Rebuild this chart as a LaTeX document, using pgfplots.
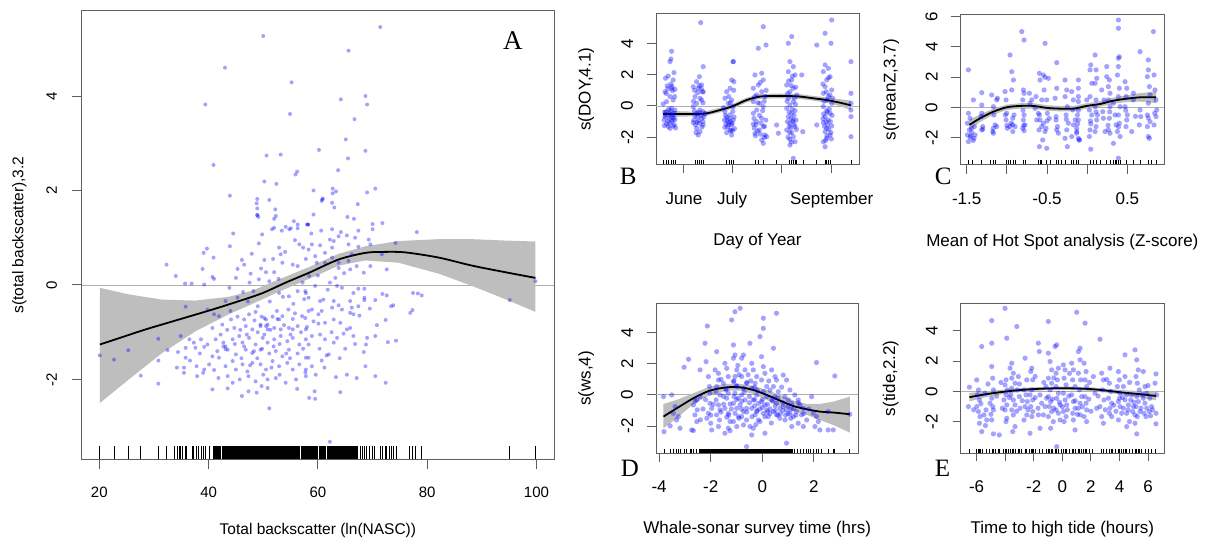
\documentclass[border=0pt]{standalone}
\usepackage{pgfplots}
\pgfplotsset{compat=1.18}
\usepackage{fontspec}
\setmainfont{Liberation Sans}
\newfontfamily\letterfont{Liberation Serif}

\definecolor{bandgray}{RGB}{190,190,190}
\definecolor{zerogray}{RGB}{175,175,175}
\definecolor{boxgray}{RGB}{95,95,95}

\pgfplotsset{
  gam/.style={
    scale only axis, anchor=south west,
    axis line style={boxgray, line width=1pt},
    tick style={boxgray, line width=1pt},
    tick align=outside, xtick pos=left, ytick pos=left,
    minor tick num=0, clip=true,
  },
  xlabA/.style={every axis x label/.style={at={(axis description cs:0.5,0)}, anchor=base, yshift=-#1, font=\fontsize{15.5}{18}\selectfont}},
  ylabA/.style={every axis y label/.style={at={(axis description cs:0,0.5)}, xshift=-#1, rotate=90, anchor=base, font=\fontsize{15.5}{18}\selectfont}},
  xlab/.style={every axis x label/.style={at={(axis description cs:0.5,0)}, anchor=base, yshift=-#1, font=\fontsize{17}{20}\selectfont}},
  ylab/.style={every axis y label/.style={at={(axis description cs:0,0.5)}, xshift=-#1, rotate=90, anchor=base, font=\fontsize{17}{20}\selectfont}},
  xtl/.style={xticklabel style={anchor=base, yshift=-#1}},
  ytl/.style={yticklabel style={rotate=90, anchor=south, inner xsep=0pt, inner ysep=#1}},
  bigfont/.style={tick label style={font=\fontsize{15}{18}\selectfont}},
  smallfont/.style={tick label style={font=\fontsize{17}{20}\selectfont}},
  resid/.style={only marks, mark=*, mark options={fill=blue, fill opacity=0.36, draw opacity=0}},
  fit/.style={black, line width=1.8pt, mark=none, smooth},
  band/.style={fill=bandgray, draw=none},
  zero/.style={zerogray, line width=0.9pt, mark=none},
  rug/.style={only marks, mark=|, black, mark options={line width=0.8pt}},
}

\begin{document}
\begin{tikzpicture}
\path[use as bounding box, fill=white] (0pt,0pt) rectangle (1208pt,540pt);

% ---------------- A: total backscatter
\begin{axis}[gam, bigfont, at={(81.8pt,80.7pt)}, width=472.2pt, height=448.3pt,
  xmin=16.8, xmax=103.2, ymin=-3.69, ymax=5.80,
  xtick={20,40,60,80,100}, xticklabels={20,40,60,80,100},
  ytick={-2,0,2,4}, yticklabels={-2,0,2,4},
  major tick length=10pt, xtl=28.4pt, ytl=14.7pt, xlabA=75.7pt, ylabA=58.3pt,
  xlabel={Total backscatter (ln(NASC))}, ylabel={s(total backscatter),3.2}]
\addplot[zero] coordinates {(16.8,0) (103.2,0)};
\addplot[band] coordinates {(20.1,-0.06) (25.4,-0.20) (31.5,-0.31) (37.6,-0.33) (43.7,-0.25) (48.0,-0.12) (52.9,0.12) (58.4,0.38) (63.8,0.66) (68.7,0.82) (74.8,0.93) (82.1,0.97) (88.2,0.97) (94.3,0.94) (99.8,0.92)
 (99.8,-0.57) (94.3,-0.30) (88.2,-0.02) (82.1,0.24) (74.8,0.47) (68.7,0.52) (63.8,0.41) (58.4,0.13) (52.9,-0.14) (48.0,-0.40) (43.7,-0.62) (37.6,-0.98) (31.5,-1.44) (25.4,-2.0) (20.1,-2.50)} --cycle;
\addplot[fit] coordinates {(20.1,-1.26) (24.3,-1.10) (28.5,-0.94) (34.6,-0.73) (40.7,-0.52) (45.6,-0.34) (49.9,-0.17) (54.1,0.05) (58.4,0.26) (63.8,0.54) (68.7,0.68) (72.0,0.70) (76.0,0.69) (82.1,0.58) (88.2,0.41) (94.3,0.27) (99.8,0.15)};
\addplot[resid, mark size=2pt] coordinates {
(50.0,5.27) (43.0,4.60) (55.2,4.29) (39.4,3.82) (54.9,3.62) (50.6,2.74) (53.2,2.76) (40.9,2.54) (55.9,2.34) (56.2,2.40) (50.2,2.19) (52.4,2.14) (43.9,1.89) (48.9,1.82) (48.8,1.73) (51.1,1.80) (48.9,1.62) (52.2,1.60) (48.9,1.48) (48.9,1.48) (49.1,1.44) (52.3,1.46) (52.0,1.40) (55.6,1.35) (56.3,1.28) (54.1,1.23) (55.05,1.20) (54.75,1.18) (51.6,1.18) (52.0,1.21) (53.4,1.15) (56.3,1.20) (58.2,1.28) (58.2,1.28) (44.5,1.09) (49.8,1.07)
(71.4,5.46) (65.6,4.96) (64.2,3.93) (68.7,4.0) (69.0,3.82) (66.7,3.51) (65.1,3.08) (60.2,2.86) (68.7,2.84) (65.5,2.68) (63.7,2.43) (59.2,2.0) (62.7,2.04) (63.3,1.98) (62.7,1.94) (70.5,2.04) (69.0,1.96) (60.9,1.83) (60.7,1.78) (60.8,1.81) (62.6,1.74) (63.0,1.64) (67.3,1.71) (59.2,1.49) (65.4,1.44) (66.6,1.40) (58.0,1.28) (70.0,1.29) (71.8,1.31) (60.6,1.15) (62.6,1.18) (64.2,1.12) (67.4,1.15) (70.0,1.18) (78.1,1.12) (58.8,1.09)
(39.7,0.77) (39.1,0.68) (43.9,0.82) (49.2,0.88) (47.9,0.66) (52.9,0.79) (53.2,0.65) (56.6,0.86) (57.3,0.79) (32.3,0.43) (40.9,0.58) (46.1,0.53) (46.5,0.43) (45.3,0.34) (50.2,0.53) (50.5,0.27) (52.0,0.27) (47.7,0.24) (53.5,0.47) (55.4,0.43) (56.3,0.40) (34.0,0.19) (38.9,0.34) (40.7,0.17) (41.0,0.13) (49.2,0.12) (51.1,0.08) (52.8,0.13) (35.7,0.03) (36.9,0.03) (39.2,0.01) (43.8,-0.06) (58.4,0.19) (57.2,0.05) (46.3,-0.15) (48.2,-0.13) (45.3,-0.27) (43.1,-0.34) (35.8,-0.46) (52.9,-0.17) (54.7,-0.24) (56.3,-0.13) (57.8,-0.17)
(39.8,-0.52) (41.0,-0.62) (41.9,-0.66) (44.1,-0.73) (45.3,-0.67) (46.5,-0.73) (47.4,-0.62) (48.6,-0.57) (49.7,-0.67) (50.5,-0.73) (51.7,-0.67) (52.6,-0.72) (53.5,-0.66) (54.6,-0.52) (55.4,-0.72) (57.1,-0.66) (58.3,-0.55)
(40.7,-0.91) (42.5,-0.84) (44.7,-0.91) (46.8,-0.87) (48.0,-0.94) (49.5,-0.87) (50.8,-0.84) (52.0,-0.91) (53.2,-0.94) (54.7,-0.91) (56.3,-0.87) (57.8,-0.94)
(30.8,-1.14) (34.9,-1.08) (36.5,-1.15) (37.3,-1.22) (38.6,-1.15) (39.8,-1.26) (41.3,-1.15) (42.7,-1.22) (43.1,-1.30) (44.4,-1.15) (45.6,-1.08) (46.2,-1.22) (47.4,-1.12) (48.6,-1.26) (49.9,-1.12) (50.8,-1.22) (52.0,-1.15) (53.2,-1.08) (54.4,-1.19) (55.4,-1.12) (56.6,-1.26) (57.8,-1.15)
(25.3,-1.38) (22.7,-1.58) (20.1,-1.49) (32.5,-1.38) (34.4,-1.42) (35.8,-1.33) (37.6,-1.33) (39.2,-1.31) (40.7,-1.51) (41.6,-1.40) (43.5,-1.37) (45.0,-1.47) (46.8,-1.37) (48.0,-1.44) (49.5,-1.37) (51.1,-1.45) (52.3,-1.40) (53.5,-1.51) (54.7,-1.37) (56.3,-1.45) (57.8,-1.54)
(30.8,-1.60) (35.8,-1.54) (37.8,-1.72) (39.2,-1.79) (40.1,-1.68) (41.9,-1.54) (43.1,-1.72) (44.4,-1.61) (45.0,-1.79) (46.2,-1.68) (47.1,-1.83) (48.0,-1.65) (49.5,-1.68) (50.5,-1.79) (51.7,-1.61) (52.9,-1.72) (54.4,-1.65) (55.4,-1.79) (56.6,-1.68) (57.8,-1.79)
(27.6,-1.92) (30.8,-2.09) (35.5,-1.75) (35.5,-1.86) (37.9,-1.93) (39.0,-1.86) (41.8,-1.97) (43.5,-1.93) (44.4,-2.07) (45.7,-2.0) (47.3,-1.93) (48.6,-2.04) (49.7,-2.14) (50.8,-2.0) (52.3,-1.97) (54.1,-2.07) (56.0,-2.0) (57.8,-1.93)
(40.7,-2.21) (43.5,-2.19) (46.1,-2.35) (47.3,-2.25) (48.8,-2.28) (50.8,-2.18) (51.1,-2.61)
(50.2,-0.70) (50.5,-0.87) (50.8,-0.94) (49.5,-0.84) (52.9,-0.73) (55.4,-0.94) (42.7,-1.30) (43.1,-1.36) (46.5,-1.30) (48.3,-1.40)
(44.0,-0.55) (45.8,-0.95) (47.0,-1.05) (48.4,-0.75) (49.0,-1.0) (49.8,-1.35) (50.2,-1.05) (51.3,-0.95) (51.9,-1.3) (52.5,-0.55) (53.0,-1.25) (53.8,-0.85) (54.2,-1.45) (55.0,-1.05) (55.8,-0.6) (56.9,-1.0) (57.3,-1.35) (46.0,-1.55) (47.6,-1.7) (48.9,-1.55) (50.0,-1.9) (51.5,-1.75) (53.0,-1.9) (54.9,-1.55) (56.2,-2.2) (44.8,-1.25) (43.4,-0.95) (42.2,-1.05) (41.0,-1.8) (38.4,-1.45) (36.6,-1.6) (34.2,-1.75)
(47.2,-0.35) (49.0,-0.45) (51.2,-0.35) (53.6,-0.25) (55.5,-0.4) (57.5,-0.3) (45.0,0.15) (47.5,0.05) (49.6,0.35) (51.8,0.55) (54.0,0.7) (55.8,0.95) (57.8,0.55) (60.0,0.2) (61.8,-0.1) (63.2,0.15) (64.8,0.25) (66.2,0.65) (60.3,-1.35) (62.5,-1.0) (64.0,-1.55) (66.8,-1.25) (67.6,-0.65) (69.5,-0.5) (70.8,-0.85) (59.6,-1.9) (61.2,-1.75) (63.3,-1.95)
(63.8,1.03) (65.3,1.05) (66.8,1.0) (58.9,0.86) (60.4,0.84) (62.6,0.79) (65.6,0.86) (67.4,0.81) (69.3,0.96) (69.6,0.86) (74.2,0.89) (62.2,0.96) (62.9,0.93)
(58.3,0.75) (59.5,0.61) (61.3,0.68) (62.6,0.58) (63.8,0.47) (63.8,0.36) (65.6,0.51) (65.9,0.33) (67.1,0.40) (68.4,0.26) (69.6,0.40) (71.7,0.65) (72.6,0.33) (61.3,0.47) (59.8,0.47)
(62.2,0.05) (63.5,-0.02) (64.4,-0.06) (67.4,-0.08) (68.5,-0.08) (66.5,-0.17) (57.7,-0.13) (59.5,-0.02)
(58.3,-0.27) (60.4,-0.34) (61.0,-0.31) (62.9,-0.34) (63.8,-0.43) (65.9,-0.34) (68.5,-0.27) (68.5,-0.32) (70.5,-0.32) (71.8,-0.19) (72.6,-0.22) (77.4,-0.17) (79.0,-0.22) (78.3,-0.18)
(58.9,-0.52) (60.7,-0.55) (62.6,-0.48) (64.4,-0.52) (66.2,-0.48) (67.4,-0.45) (65.9,-0.59) (66.5,-0.62) (73.4,-0.45) (73.8,-0.43) (77.3,-0.53) (76.9,-0.59) (72.4,-0.74)
(57.7,-0.70) (59.2,-0.77) (60.1,-0.62) (61.3,-0.80) (62.9,-0.73) (64.1,-0.80) (65.3,-0.94) (65.9,-0.91) (64.7,-1.03) (58.0,-0.89) (60.1,-0.82)
(58.9,-1.08) (61.3,-1.15) (63.5,-1.12) (66.5,-1.08) (69.0,-1.12) (70.5,-1.08) (72.8,-1.21) (74.3,-1.18) (60.4,-1.05)
(58.3,-1.26) (62.9,-1.22) (65.0,-1.35) (68.4,-1.42) (68.8,-1.26) (58.3,-1.54) (61.6,-1.49) (62.0,-1.47) (60.7,-1.60) (58.9,-1.72) (57.7,-1.85)
(68.7,-1.72) (65.3,-1.90) (67.1,-1.97) (70.5,-1.93) (72.4,-2.07) (64.1,-2.27) (59.4,-2.25) (58.4,-2.39) (59.5,-2.41)
(62.2,-3.32) (95.1,-0.32) (99.8,0.08)};
\addplot[rug, mark size=6.7pt] coordinates {(20.06,-3.548) (22.7,-3.548) (25.3,-3.548) (27.6,-3.548) (30.8,-3.548) (32.3,-3.548) (33.7,-3.548) (34.3,-3.548) (34.6,-3.548) (34.9,-3.548) (35.2,-3.548) (35.7,-3.548) (36.0,-3.548) (37.0,-3.548) (37.3,-3.548) (37.8,-3.548) (38.1,-3.548) (38.6,-3.548) (39.0,-3.548) (39.5,-3.548) (40.1,-3.548) (67.8,-3.548) (68.2,-3.548) (68.5,-3.548) (68.8,-3.548) (69.4,-3.548) (69.9,-3.548) (70.3,-3.548) (71.4,-3.548) (71.8,-3.548) (72.3,-3.548) (72.6,-3.548) (73.0,-3.548) (73.4,-3.548) (73.8,-3.548) (74.3,-3.548) (76.7,-3.548) (77.3,-3.548) (77.9,-3.548) (79.0,-3.548) (95.1,-3.548) (99.8,-3.548)};
\addplot[fill=black, draw=none] coordinates {(40.8,-3.69) (42.3,-3.69) (42.3,-3.406) (40.8,-3.406)} --cycle;
\addplot[fill=black, draw=none] coordinates {(42.5,-3.69) (56.7,-3.69) (56.7,-3.406) (42.5,-3.406)} --cycle;
\addplot[fill=black, draw=none] coordinates {(56.9,-3.69) (60.0,-3.69) (60.0,-3.406) (56.9,-3.406)} --cycle;
\addplot[fill=black, draw=none] coordinates {(60.2,-3.69) (61.5,-3.69) (61.5,-3.406) (60.2,-3.406)} --cycle;
\addplot[fill=black, draw=none] coordinates {(61.7,-3.69) (67.4,-3.69) (67.4,-3.406) (61.7,-3.406)} --cycle;
\end{axis}

% ---------------- B: day of year
\begin{axis}[gam, smallfont, at={(656pt,375.7pt)}, width=203pt, height=150.3pt,
  xmin=134.6, xmax=261.0, ymin=-3.72, ymax=5.87,
  xtick={152,182,213,244}, xticklabels={June,July,,September},
  ytick={-2,0,2,4}, yticklabels={-2,0,2,4},
  major tick length=9pt, xtl=31.2pt, ytl=13.7pt, xlab=81.4pt, ylab=65.5pt,
  xlabel={Day of Year}, ylabel={s(DOY,4.1)}]
\addplot[zero] coordinates {(134.6,0) (261.0,0)};
\addplot[band] coordinates {(139.1,-0.26) (147.4,-0.33) (157.8,-0.36) (166.1,-0.32) (174.4,-0.11) (182.7,0.15) (191.0,0.53) (199.3,0.75) (207.7,0.79) (216.0,0.79) (224.3,0.75) (232.6,0.64) (240.9,0.55) (249.2,0.43) (256.0,0.34)
 (256.0,-0.26) (249.2,-0.01) (240.9,0.21) (232.6,0.34) (224.3,0.45) (216.0,0.49) (207.7,0.49) (199.3,0.45) (191.0,0.23) (182.7,-0.15) (174.4,-0.41) (166.1,-0.62) (157.8,-0.66) (147.4,-0.69) (139.1,-0.76)} --cycle;
\addplot[fit] coordinates {(139.1,-0.51) (147.4,-0.51) (157.8,-0.51) (166.1,-0.47) (174.4,-0.26) (182.7,0.0) (191.0,0.38) (199.3,0.60) (207.7,0.64) (216.0,0.64) (224.3,0.60) (232.6,0.49) (240.9,0.38) (249.2,0.21) (256.0,0.04)};
\addplot[resid, mark size=2.6pt] coordinates {
(140.5,1.77) (145.3,1.66) (144.3,3.49) (143.9,3.0) (143.3,2.83) (145.8,2.13) (142.2,1.91) (141.6,1.28) (144.3,1.13) (146.4,1.06) (140.2,0.91) (143.3,0.6) (145.3,0.38) (141.2,0.28) (139.1,0.13) (144.3,-0.15) (146.4,-0.26) (141.2,-0.36) (143.3,-0.51) (145.3,-0.57) (140.2,-0.68) (142.8,-0.79) (146.4,-0.87) (144.3,-1.0) (141.2,-1.15) (145.3,-1.28) (143.3,-1.43) (139.6,-0.9) (142.2,-1.3) (146.8,-1.4) (144.8,0.98) (143.8,1.4) (142.5,-0.2) (145.8,-0.45) (140.8,-0.55) (144.0,-0.7)
(140.0,-0.4) (141.8,-0.95) (143.0,-1.1) (145.0,-0.9) (146.0,-1.2) (142.0,1.1) (144.6,1.25) (146.2,0.6) (139.8,-1.25) (143.6,-0.3) (141.0,0.8) (145.6,-0.75)
(164.0,2.51) (161.6,1.87) (159.9,1.55) (163.0,1.34) (157.8,1.23) (160.9,1.13) (164.0,0.91) (158.9,0.6) (162.0,0.49) (163.0,0.38) (159.9,0.17) (157.8,-0.04) (162.0,-0.26) (164.0,-0.36) (159.9,-0.47) (158.9,-0.64) (163.0,-0.79) (160.9,-0.94) (157.8,-1.06) (164.0,-1.21) (159.9,-1.43) (162.0,-1.64) (160.9,-1.85) (161.5,1.3) (163.5,0.9) (158.5,-0.3) (162.5,-0.6) (160.5,-0.7) (163.8,-1.0) (159.2,-1.2) (165.2,-0.5) (162.4,5.32)
(158.2,-0.9) (160.2,-1.05) (161.2,-0.4) (163.2,-1.35) (164.4,-0.7) (158.6,1.0) (160.6,0.85) (162.8,1.1) (159.5,-1.7) (161.9,-1.1) (163.9,0.2) (157.9,0.3)
(182.7,2.83) (182.7,2.83) (181.7,1.66) (183.1,1.55) (180.7,1.13) (178.6,0.91) (177.5,0.49) (181.7,0.38) (179.6,0.17) (182.7,-0.04) (177.5,-0.36) (180.7,-0.57) (178.6,-0.72) (182.7,-0.89) (179.6,-1.06) (181.7,-1.21) (177.5,-1.36) (180.7,-1.53) (178.6,-1.7) (181.7,-1.85) (183.0,1.0) (176.8,-0.1) (180.0,-1.2) (183.5,-1.45) (179.0,-0.9) (182.0,-1.1)
(177.9,-0.6) (179.2,-1.35) (180.4,-0.8) (181.3,-1.6) (182.4,-0.35) (183.2,-0.7) (178.2,-1.15) (179.9,0.6) (181.0,-1.0) (182.2,-1.55) (177.2,-0.9) (180.9,0.2)
(201.4,5.06) (203.1,3.89) (198.3,3.68) (200.4,2.09) (196.2,1.98) (201.4,1.66) (198.3,1.34) (195.2,1.13) (200.4,0.91) (197.3,0.70) (202.5,0.60) (195.2,0.28) (199.3,0.17) (201.4,-0.04) (197.3,-0.26) (195.2,-0.47) (200.4,-0.79) (197.3,-1.0) (195.2,-1.15) (201.4,-1.32) (198.9,-1.53) (196.2,-1.74) (202.5,-1.85) (203.5,-1.96) (200.4,-2.17) (201.4,-2.38) (202.0,-2.0) (195.7,-1.4) (196.5,-1.9) (199.5,1.5) (202.0,0.3)
(195.6,-0.8) (196.8,-1.2) (197.8,-1.6) (199.0,-0.6) (200.0,-1.1) (201.0,-0.3) (202.2,-1.3) (203.0,-0.9) (198.0,0.2) (196.0,0.6) (203.2,1.0) (199.6,-1.8)
(209.7,-1.21) (210.8,-1.74) (226.0,-1.64) (225.3,1.98)
(219.1,4.43) (217.0,4.0) (218.0,2.83) (220.1,2.51) (217.0,2.19) (221.2,1.98) (219.1,1.66) (216.0,1.34) (220.1,1.13) (218.0,0.91) (222.2,0.70) (217.0,0.49) (220.1,0.28) (218.0,0.06) (216.0,-0.15) (221.2,-0.30) (219.1,-0.47) (217.0,-0.68) (220.1,-0.89) (218.0,-1.11) (221.2,-1.32) (216.0,-1.53) (219.1,-1.70) (220.1,-1.96) (218.0,-2.13) (221.2,-2.28) (218.0,-2.49) (220.1,-3.34) (219.5,1.9) (216.5,0.8) (221.5,0.1) (217.5,-0.4) (219.8,-1.0) (222.0,-1.5) (216.8,-2.0) (218.5,-1.4) (220.5,-0.6) (217.2,1.6)
(216.4,-1.0) (217.6,-1.3) (218.6,-0.8) (219.4,-0.2) (220.6,-1.2) (221.8,-0.9) (216.2,0.3) (217.8,-1.7) (219.0,-2.3) (220.8,0.5) (221.6,1.2) (218.8,1.3)
(244.0,5.49) (239.9,4.64) (243.6,4.0) (234.7,3.89) (239.9,2.62) (241.9,2.40) (238.8,2.19) (243.0,1.87) (240.9,1.66) (239.9,1.23) (244.0,1.02) (238.8,0.81) (241.9,0.60) (240.9,0.38) (244.0,0.17) (238.8,-0.04) (240.9,-0.30) (243.0,-0.47) (239.9,-0.68) (241.9,-0.89) (238.8,-1.06) (244.0,-1.28) (240.9,-1.43) (239.9,-1.64) (243.0,-1.85) (240.9,-2.06) (238.8,-2.28) (239.9,-2.6) (242.0,1.8) (244.5,0.5) (239.0,-0.5) (241.5,-1.2) (243.5,-1.7) (240.2,-2.2) (242.5,-0.2) (238.5,1.4) (234.7,-1.21)
(238.6,-0.8) (239.5,-1.3) (240.5,-1.0) (241.2,-0.4) (242.2,-1.5) (243.2,-1.0) (244.2,-0.6) (239.2,0.3) (240.6,0.9) (242.8,0.7) (241.0,-1.9) (243.8,-2.1)
(256.0,2.83) (256.0,0.81) (256.0,0.17) (256.0,-0.26) (256.0,-0.68) (256.0,-1.96)};
\addplot[rug, mark size=2.25pt] coordinates {(139.1,-3.576) (140.8,-3.576) (142.2,-3.576) (143.9,-3.576) (145.4,-3.576) (146.8,-3.576) (158.9,-3.576) (160.3,-3.576) (161.6,-3.576) (163.0,-3.576) (164.0,-3.576) (178.6,-3.576) (180.3,-3.576) (181.7,-3.576) (182.7,-3.576) (196.2,-3.576) (198.3,-3.576) (201.4,-3.576) (209.7,-3.576) (217.6,-3.576) (219.1,-3.576) (220.1,-3.576) (221.2,-3.576) (222.2,-3.576) (226.3,-3.576) (234.7,-3.576) (239.9,-3.576) (240.9,-3.576) (241.9,-3.576) (243.0,-3.576) (256.0,-3.576)};
\end{axis}

% ---------------- C: mean Z
\begin{axis}[gam, smallfont, at={(960.7pt,375.7pt)}, width=203.3pt, height=149.3pt,
  xmin=-1.575, xmax=0.956, ymin=-3.78, ymax=6.12,
  xtick={-1.5,-1,-0.5,0,0.5}, xticklabels={-1.5,,-0.5,,0.5},
  ytick={-2,0,2,4,6}, yticklabels={-2,0,2,4,6},
  major tick length=10pt, xtl=30.2pt, ytl=13pt, xlab=82.4pt, ylab=65pt,
  xlabel={Mean of Hot Spot analysis (Z-score)}, ylabel={s(meanZ,3.7)}]
\addplot[zero] coordinates {(-1.575,0) (0.956,0)};
\addplot[band] coordinates {(-1.467,-0.82) (-1.334,-0.48) (-1.168,-0.09) (-1.002,0.18) (-0.836,0.27) (-0.670,0.27) (-0.504,0.14) (-0.338,0.09) (-0.172,0.09) (-0.006,0.27) (0.160,0.40) (0.326,0.64) (0.492,0.79) (0.658,0.94) (0.857,1.04)
 (0.857,0.28) (0.658,0.38) (0.492,0.35) (0.326,0.24) (0.160,0.04) (-0.006,-0.09) (-0.172,-0.27) (-0.338,-0.27) (-0.504,-0.22) (-0.670,-0.09) (-0.836,-0.09) (-1.002,-0.18) (-1.168,-0.49) (-1.334,-0.98) (-1.467,-1.52)} --cycle;
\addplot[fit] coordinates {(-1.467,-1.17) (-1.334,-0.73) (-1.168,-0.29) (-1.002,0.0) (-0.836,0.09) (-0.670,0.09) (-0.504,-0.04) (-0.338,-0.09) (-0.172,-0.09) (-0.006,0.09) (0.160,0.22) (0.326,0.44) (0.492,0.57) (0.658,0.66) (0.857,0.66)};
\addplot[resid, mark size=2.6pt] coordinates {
(-1.479,2.48) (-1.479,-0.40) (-1.459,-0.73) (-1.492,-1.06) (-1.467,-1.50) (-1.492,-1.83) (-1.459,-1.99) (-1.479,-2.28) (-1.438,-1.68) (-1.438,-1.39)
(-1.417,0.49) (-1.405,-1.28) (-1.396,-1.83) (-1.409,-2.06)
(-1.313,0.97) (-1.313,0.15) (-1.313,-0.40) (-1.301,-1.28) (-1.313,-1.50) (-1.322,-0.62)
(-1.189,0.82) (-1.168,0.04) (-1.160,-0.51) (-1.147,-1.17) (-1.168,-1.72) (-1.176,-1.61) (-1.127,-1.28) (-1.127,0.49) (-1.118,0.60)
(-1.023,1.04) (-1.010,0.49) (-1.002,-0.40) (-1.010,-0.84) (-0.994,-1.39) (-1.019,-0.51)
(-0.961,3.47) (-0.940,2.36) (-0.919,1.81) (-0.940,1.15) (-0.961,-1.28) (-0.948,-1.06) (-0.927,-0.73) (-0.898,-1.28) (-0.911,-0.51) (-0.927,-1.61)
(-0.815,5.02) (-0.786,4.46) (-0.795,1.15) (-0.803,0.49) (-0.786,-0.51) (-0.795,-0.84) (-0.774,-1.17) (-0.803,-1.39) (-0.786,-1.55) (-0.786,0.93)
(-0.649,-0.07) (-0.608,-0.40) (-0.629,-0.84)
(-0.595,2.25) (-0.546,2.14) (-0.537,1.15) (-0.566,0.49) (-0.595,-0.51) (-0.587,-0.84) (-0.546,-1.06) (-0.566,-1.28) (-0.525,-1.61) (-0.554,-2.17) (-0.595,-2.61) (-0.504,-2.72)
(-0.525,4.24) (-0.525,1.99) (-0.483,1.92) (-0.504,0.49) (-0.496,-0.40) (-0.471,-0.73) (-0.512,-1.39)
(-0.400,0.60) (-0.380,1.26) (-0.388,-0.62) (-0.371,-1.28) (-0.359,-1.72) (-0.388,-0.84) (-0.380,2.96)
(-0.276,1.81) (-0.255,1.15) (-0.276,0.71) (-0.247,0.04) (-0.263,-0.51) (-0.234,-1.06) (-0.255,-1.50) (-0.276,-2.06) (-0.247,-2.61)
(-0.193,1.04) (-0.172,0.49) (-0.180,-0.18) (-0.151,-0.84) (-0.172,-1.17) (-0.131,-1.72) (-0.193,-1.94)
(-0.110,1.81) (-0.110,1.26) (-0.110,0.71) (-0.110,0.38) (-0.122,-0.51) (-0.110,-0.84) (-0.131,-1.39) (-0.110,-2.06) (-0.131,-1.61) (-0.098,-2.17) (-0.098,-2.17)
(0.044,2.81) (0.035,2.48) (0.056,1.59) (0.035,0.71) (0.027,-0.18) (0.056,-0.51) (0.044,-1.10) (0.035,-1.50) (0.027,-1.94) (0.044,-2.78)
(0.098,3.47) (0.110,2.48) (0.118,1.92) (0.098,1.59) (0.110,0.49) (0.098,0.04) (0.127,-0.51) (0.118,-0.84) (0.110,-1.28) (0.098,-1.61)
(0.180,1.15) (0.209,0.49) (0.193,-0.29) (0.201,-0.73) (0.222,-1.61)
(0.243,2.70) (0.243,2.03) (0.276,1.81) (0.263,1.37) (0.284,0.93) (0.263,0.49) (0.284,0.04) (0.276,-0.73) (0.263,-1.50) (0.284,-1.72)
(0.326,0.27) (0.346,-0.51) (0.359,-1.17) (0.326,-2.39) (0.388,5.79) (0.388,5.24)
(0.388,3.25) (0.388,2.70) (0.376,2.14) (0.400,1.26) (0.388,0.71) (0.409,0.04) (0.388,-0.51) (0.400,-1.06) (0.376,-1.61) (0.409,-1.94)
(0.471,1.70) (0.492,1.26) (0.483,0.71) (0.471,0.04) (0.500,-0.51) (0.492,-0.84) (0.483,-1.28)
(0.658,3.69) (0.658,-0.18) (0.666,-0.62) (0.649,-1.17)
(0.749,2.03) (0.761,2.48) (0.761,3.14) (0.774,1.37) (0.782,0.82) (0.761,0.27) (0.749,-0.51) (0.782,-0.95) (0.749,-1.28) (0.761,-1.94) (0.774,-2.06)
(0.824,5.02) (0.832,2.14) (0.844,1.15) (0.857,0.49) (0.857,-0.62) (0.865,-0.18) (0.832,-1.17)
(0.575,0.93) (0.575,0.49) (0.554,-1.61) (0.388,-3.38) (-0.720,0.93) (-0.712,0.27) (-0.691,0.49) (-0.587,1.81) (-0.637,0.71) (-0.006,0.49)
(-1.45,-1.9) (-1.42,-2.2) (-1.3,-1.45) (-1.17,-1.4) (-1.0,-1.2) (-0.93,-1.15) (-0.79,-1.2) (-0.6,-1.5) (-0.5,-0.9) (-0.38,-1.5) (-0.26,-0.8) (-0.12,-1.1) (0.04,-0.9) (0.11,-0.3) (0.26,-1.2) (0.39,-1.3) (0.48,-0.2) (0.6,-0.6) (0.76,-0.7) (0.84,-0.4) (0.4,3.35) (0.28,-0.3) (-0.11,-0.2) (-0.8,-0.2)};
\addplot[rug, mark size=2.25pt] coordinates {(-1.479,-3.63) (-1.425,-3.63) (-1.313,-3.63) (-1.210,-3.63) (-1.168,-3.63) (-1.147,-3.63) (-1.010,-3.63) (-0.981,-3.63) (-0.961,-3.63) (-0.919,-3.63) (-0.898,-3.63) (-0.795,-3.63) (-0.774,-3.63) (-0.608,-3.63) (-0.587,-3.63) (-0.566,-3.63) (-0.504,-3.63) (-0.463,-3.63) (-0.380,-3.63) (-0.359,-3.63) (-0.317,-3.63) (-0.276,-3.63) (-0.193,-3.63) (-0.172,-3.63) (-0.131,-3.63) (-0.110,-3.63) (0.035,-3.63) (0.077,-3.63) (0.118,-3.63) (0.160,-3.63) (0.243,-3.63) (0.284,-3.63) (0.326,-3.63) (0.347,-3.63) (0.367,-3.63) (0.388,-3.63) (0.409,-3.63) (0.492,-3.63) (0.575,-3.63) (0.658,-3.63) (0.762,-3.63) (0.803,-3.63) (0.857,-3.63)};
\end{axis}

% ---------------- D: whale-sonar survey time
\begin{axis}[gam, smallfont, at={(656pt,86.7pt)}, width=202.3pt, height=150pt,
  xmin=-4.12, xmax=3.72, ymin=-3.75, ymax=5.89,
  xtick={-4,-2,0,2}, xticklabels={-4,-2,0,2},
  ytick={-2,0,2,4}, yticklabels={-2,0,2,4},
  major tick length=9pt, xtl=30.5pt, ytl=13.7pt, xlab=80.7pt, ylab=65.3pt,
  xlabel={Whale-sonar survey time (hrs)}, ylabel={s(ws,4)}]
\addplot[zero] coordinates {(-4.12,0) (3.72,0)};
\addplot[band] coordinates {(-3.83,-0.58) (-3.32,-0.32) (-2.67,0.11) (-2.03,0.54) (-1.38,0.71) (-0.86,0.71) (-0.35,0.58) (0.17,0.32) (0.68,0.0) (1.20,-0.36) (1.72,-0.58) (2.23,-0.58) (2.75,-0.43) (3.39,-0.11)
 (3.39,-2.42) (2.75,-1.93) (2.23,-1.61) (1.72,-1.28) (1.20,-1.01) (0.68,-0.71) (0.17,-0.32) (-0.35,0.06) (-0.86,0.28) (-1.38,0.28) (-2.03,0.0) (-2.67,-0.58) (-3.32,-1.50) (-3.83,-2.14)} --cycle;
\addplot[fit] coordinates {(-3.83,-1.39) (-3.32,-0.86) (-2.67,-0.21) (-2.03,0.28) (-1.38,0.49) (-0.86,0.49) (-0.35,0.32) (0.17,0.0) (0.68,-0.36) (1.20,-0.71) (1.72,-0.92) (2.23,-1.07) (2.75,-1.13) (3.39,-1.24)};
\addplot[resid, mark size=2.6pt] coordinates {
(-3.81,-2.36) (-3.83,-0.11) (-3.51,0.0) (-3.57,-1.99) (-3.32,-1.61) (-3.25,-1.39) (-3.45,-1.18) (-3.38,-0.75) (-3.19,-2.14) (-3.03,1.78) (-2.86,2.29) (-2.74,-2.25) (-2.67,-2.29) (-2.54,-1.71) (-2.61,-1.28) (-2.52,-0.96) (-2.67,-0.64) (-2.54,-0.32) (-2.41,-0.11) (-2.41,1.61) (-2.22,3.32) (-2.18,2.14) (-2.13,4.43)
(-2.09,1.18) (-2.05,0.54) (-2.03,0.11) (-2.03,-0.54) (-1.96,-0.86) (-2.09,-1.18) (-2.15,-1.50) (-2.00,-1.82) (-1.96,-2.25)
(-1.83,1.61) (-1.77,2.78) (-1.70,1.39) (-1.70,0.96) (-1.77,0.54) (-1.64,0.0) (-1.79,-0.32) (-1.70,-0.64) (-1.64,-0.96) (-1.77,-1.28) (-1.66,-1.61) (-1.70,-2.03)
(-1.45,2.03) (-1.38,1.71) (-1.32,1.18) (-1.51,0.75) (-1.41,0.32) (-1.32,0.11) (-1.38,-0.21) (-1.25,-0.58) (-1.45,-0.86) (-1.32,-1.18) (-1.38,-1.43) (-1.25,-1.71) (-1.32,-2.14) (-1.45,-2.46)
(-1.19,4.82) (-1.06,5.35) (-1.12,3.21) (-1.06,2.57) (-1.12,2.36) (-0.99,1.61) (-1.06,1.18) (-1.12,0.86) (-0.99,0.54) (-1.06,0.11) (-0.93,-0.21) (-1.12,-0.54) (-0.99,-0.86) (-1.06,-1.18) (-0.93,-1.39) (-1.12,-1.71) (-0.99,-2.03)
(-0.86,5.57) (-0.80,2.36) (-0.73,2.57) (-0.67,1.61) (-0.80,1.18) (-0.61,0.75) (-0.73,0.43) (-0.80,0.0) (-0.67,-0.32) (-0.86,-0.64) (-0.61,-0.86) (-0.73,-1.07) (-0.80,-1.39) (-0.61,-1.61) (-0.73,-1.93)
(-0.48,3.32) (-0.48,-2.03) (-0.35,-2.14) (-0.41,-2.57)
(-0.41,2.03) (-0.35,1.61) (-0.22,1.18) (-0.28,0.75) (-0.41,0.43) (-0.22,0.0) (-0.35,-0.32) (-0.15,-0.54) (-0.41,-0.86) (-0.22,-1.07) (-0.28,-1.28) (-0.15,-1.61)
(-0.09,3.75) (0.04,4.28) (0.04,4.93) (-0.03,2.46) (0.04,1.82) (0.10,1.39) (-0.03,0.96) (0.17,0.54) (0.04,0.21) (0.17,-0.11) (-0.03,-0.43) (0.10,-0.64) (0.17,-0.96) (0.04,-1.18) (0.23,-1.39) (-0.09,-1.71) (0.10,-2.46)
(0.43,3.0) (0.55,5.25) (0.36,1.61) (0.49,1.18) (0.55,0.96) (0.43,0.54) (0.62,0.21) (0.49,-0.11) (0.36,-0.32) (0.55,-0.54) (0.68,-0.86) (0.43,-1.07) (0.55,-1.28) (0.68,-1.50)
(0.81,1.28) (0.94,0.96) (1.07,0.32) (0.88,-0.11) (1.01,-0.32) (1.14,-0.54) (0.81,-0.75) (0.94,-0.96) (1.07,-1.18) (1.20,-1.39) (0.88,-1.61) (1.14,-2.03)
(0.94,-3.10) (-0.61,-3.32)
(1.26,0.0) (1.39,-0.32) (1.46,-0.64) (1.59,-0.86) (1.32,-1.07) (1.52,-1.28) (1.72,-1.61) (1.39,-1.82) (1.59,-2.03)
(1.91,-0.11) (1.97,-1.18) (2.10,-1.39) (2.17,-1.71) (2.04,-2.03) (2.23,-2.25)
(2.10,2.08) (2.55,-2.25) (2.75,-2.25) (2.55,-1.07) (2.81,1.22) (3.39,-1.24)
(-0.3,-0.7) (0.0,-0.8) (0.3,-0.9) (0.5,-0.7) (0.8,-1.0) (1.0,-1.2) (-0.5,-0.5) (-1.0,-0.3) (-1.5,-0.1) (-0.2,-1.0) (0.2,-1.1) (0.6,-1.3) (1.1,-0.9) (-0.8,-0.9) (-1.3,-1.3) (-0.6,0.8) (-1.1,0.9) (-0.9,1.3) (-0.3,0.5) (0.3,0.3)
(-2.3,-0.9) (-2.2,-0.3) (-2.0,-1.3) (-1.9,-0.6) (-1.8,0.2) (-1.6,-1.1) (-1.5,-0.6) (-1.4,0.4) (-1.2,-0.9) (-1.1,-0.1) (-1.0,0.6) (-0.9,-1.5) (-0.8,-0.4) (-0.7,0.2) (-0.6,-1.1) (-0.5,-0.1) (-0.45,0.9) (-0.4,-1.4) (-0.3,-0.3) (-0.2,0.3) (-0.1,-0.9) (0.0,-0.3) (0.1,-1.4) (0.2,-0.6) (0.3,-1.2) (0.4,-0.4) (0.5,-1.0) (0.6,-0.2) (0.7,-1.2) (0.8,-0.5) (0.9,-1.3) (1.0,-0.7) (1.1,-1.5) (1.2,-0.9) (1.3,-1.3) (1.4,-0.5) (1.6,-1.2) (1.8,-0.9) (-2.4,-1.6) (-2.6,-0.4) (-0.95,1.9) (-0.55,1.3) (0.25,0.9) (0.75,0.5) (-1.6,1.0) (-1.25,-2.3) (-0.25,-1.9) (0.35,-1.8)};
\addplot[rug, mark size=2.25pt] coordinates {(-3.81,-3.605) (-3.57,-3.605) (-3.45,-3.605) (-3.32,-3.605) (-3.25,-3.605) (-3.19,-3.605) (-3.03,-3.605) (-2.93,-3.605) (-2.80,-3.605) (-2.74,-3.605) (-2.67,-3.605) (-2.54,-3.605) (1.26,-3.605) (1.35,-3.605) (1.46,-3.605) (1.59,-3.605) (1.72,-3.605) (1.78,-3.605) (1.87,-3.605) (1.97,-3.605) (2.08,-3.605) (2.17,-3.605) (2.30,-3.605) (2.55,-3.605) (2.75,-3.605) (2.81,-3.605) (3.39,-3.605)};
\addplot[fill=black, draw=none] coordinates {(-2.44,-3.75) (1.20,-3.75) (1.20,-3.46) (-2.44,-3.46)} --cycle;
\end{axis}

% ---------------- E: time to high tide
\begin{axis}[gam, smallfont, at={(960.7pt,86.7pt)}, width=203.3pt, height=150pt,
  xmin=-7.11, xmax=7.11, ymin=-4.07, ymax=5.82,
  xtick={-6,-4,-2,0,2,4,6}, xticklabels={-6,,-2,0,2,4,6},
  ytick={-2,0,2,4}, yticklabels={-2,0,2,4},
  major tick length=8pt, xtl=31.5pt, ytl=14.9pt, xlab=80pt, ylab=65.7pt,
  xlabel={Time to high tide (hours)}, ylabel={s(tide,2.2)}]
\addplot[zero] coordinates {(-7.11,0) (7.11,0)};
\addplot[band] coordinates {(-6.50,-0.09) (-5.5,0.0) (-4.59,0.09) (-3.4,0.19) (-2.26,0.27) (-1.1,0.31) (0,0.33) (1.1,0.31) (2.17,0.27) (3.2,0.18) (4.27,0.09) (5.4,0.03) (6.55,-0.01)
 (6.55,-0.57) (5.4,-0.37) (4.27,-0.23) (3.2,-0.08) (2.17,0.03) (1.1,0.09) (0,0.11) (-1.1,0.09) (-2.26,0.03) (-3.4,-0.07) (-4.59,-0.23) (-5.5,-0.4) (-6.50,-0.65)} --cycle;
\addplot[fit] coordinates {(-6.50,-0.37) (-5.5,-0.2) (-4.59,-0.07) (-3.4,0.06) (-2.26,0.15) (-1.1,0.2) (0,0.22) (1.1,0.2) (2.17,0.15) (3.2,0.05) (4.27,-0.07) (5.4,-0.17) (6.55,-0.29)};
\addplot[resid, mark size=2.6pt] coordinates {
(-6.50,0.29) (-6.57,-0.99)
(-5.99,0.77) (-5.87,0.11) (-5.94,-0.22) (-5.80,-0.55) (-5.99,-0.99) (-5.87,-1.32) (-5.76,-1.65) (-5.80,-2.09) (-5.64,-2.64) (-5.64,2.97)
(-5.41,-0.11) (-5.34,-1.21) (-5.48,-1.54) (-5.29,-1.87) (-5.38,-2.24) (-4.94,4.68) (-4.94,3.19)
(-4.94,1.65) (-4.87,0.88) (-4.82,0.11) (-4.94,-0.44) (-5.06,-0.77) (-4.82,-1.21) (-4.94,-1.87) (-4.82,-2.79) (-4.87,-0.99) (-4.41,-2.86) (-4.01,5.49)
(-3.89,3.52) (-3.94,0.77) (-4.01,0.44) (-3.85,0.11) (-3.94,-0.22) (-4.08,-0.55) (-3.89,-0.88) (-4.01,-1.21) (-3.94,-1.98) (-3.89,-1.76)
(-3.54,1.87) (-3.66,1.54) (-3.43,1.21) (-3.54,0.88) (-3.31,0.55) (-3.54,0.22) (-3.61,-0.22) (-3.43,-0.55) (-3.31,-0.88) (-3.54,-1.21) (-3.43,-1.54) (-3.31,-2.31) (-3.47,-2.64)
(-3.08,0.99) (-3.15,0.11) (-3.01,-0.33) (-2.96,-1.10) (-3.19,4.29)
(-2.61,2.20) (-2.49,0.77) (-2.68,0.11) (-2.54,-0.22) (-2.45,-0.66) (-2.61,-0.99) (-2.49,-1.54) (-2.68,-1.87)
(-2.14,1.54) (-2.21,1.32) (-2.07,0.77) (-2.14,0.11) (-2.26,-0.22) (-2.07,-0.55) (-2.21,-0.99) (-2.07,-1.32) (-2.14,-1.65) (-2.26,-2.75)
(-1.68,3.19) (-1.61,2.64) (-1.56,-0.22) (-1.45,-0.77) (-1.68,-1.54) (-1.56,-2.42)
(-1.33,-1.54) (-1.21,-0.99) (-1.10,-0.44) (-1.14,0.33) (-0.98,4.62)
(-0.98,2.53) (-0.86,1.98) (-0.75,1.43) (-0.98,0.88) (-0.75,0.55) (-0.86,0.11) (-0.98,-0.33) (-0.82,-0.66) (-0.91,-0.99) (-0.75,-1.32) (-0.98,-1.65) (-0.63,-1.98) (-0.82,-2.42)
(-0.51,2.97) (-0.40,3.08) (-0.28,1.54) (-0.44,1.21) (-0.35,0.77) (-0.44,0.33) (-0.28,-0.11) (-0.40,-0.44) (-0.16,-0.88) (-0.44,-1.21) (-0.28,-1.43) (-0.16,-1.87) (-0.40,-3.63)
(0.07,1.76) (0.19,1.43) (0.12,0.88) (0.26,0.44) (0.07,-0.11) (0.19,-0.55) (0.30,-0.88) (0.07,-1.32) (0.26,-1.65) (0.12,-1.98)
(0.65,1.87) (0.77,1.43) (0.72,0.77) (0.89,0.33) (0.65,-0.22) (0.77,-0.66) (0.89,-1.10) (0.72,-1.43) (0.77,-1.87)
(1.00,5.23) (1.12,2.64) (1.24,2.86) (1.24,2.09) (1.12,1.21) (1.28,0.77) (1.19,0.11) (1.35,-0.33) (1.24,-0.77) (1.12,-1.10) (1.24,-1.54) (0.89,-2.53)
(1.59,4.51) (1.52,1.87) (1.66,1.32) (1.59,0.77) (1.70,0.33) (1.59,-0.33) (1.66,-0.77) (1.70,-1.21) (1.52,-1.65) (1.70,-1.98)
(2.17,0.99) (2.28,-0.11) (2.40,-1.10)
(2.63,3.45) (2.75,1.21) (2.87,0.77) (2.82,0.11) (2.91,-0.55) (2.63,-0.99) (2.75,-1.65) (2.87,-2.09)
(3.33,1.54) (3.29,0.55) (3.38,0.0) (3.22,-0.44) (3.45,-0.77) (3.33,-1.10) (3.29,-1.43) (3.45,-1.65)
(3.92,1.32) (3.99,0.77) (3.85,0.33) (4.03,-0.11) (3.99,-0.44) (3.92,-0.66) (4.03,-0.99) (4.15,-1.43) (3.92,-1.87)
(4.38,2.42) (4.38,0.99) (4.27,0.33) (4.50,-0.22) (4.38,-0.55) (4.62,-0.88) (4.27,-1.10) (4.50,-1.43) (4.69,-1.98) (4.50,-2.31)
(4.85,-0.22) (4.78,-0.55) (4.97,-0.99) (4.92,-1.32) (5.08,-1.54)
(5.08,2.75) (5.20,2.09) (5.31,1.43) (5.15,0.99) (5.24,0.55) (5.38,0.11) (5.20,-0.33) (5.31,-0.66) (5.15,-0.99) (5.43,-1.32) (5.24,-1.65) (5.08,-2.09) (5.20,-2.79)
(5.66,1.32) (5.78,0.33) (5.90,-0.11) (5.66,-0.44) (5.78,-0.77) (5.90,-1.10) (5.71,-1.43) (5.85,-1.65)
(6.12,-0.44) (6.24,-0.99) (6.08,-1.32) (6.17,-1.60)
(6.55,1.16) (6.48,0.55) (6.60,-0.22) (6.55,-1.43) (6.55,-2.13)
(-6.2,-1.2) (-5.7,-0.8) (-5.0,-1.5) (-4.6,-0.3) (-4.2,-1.1) (-3.7,-0.4) (-3.2,-1.3) (-2.8,-0.6) (-2.4,-1.2) (-1.9,-0.4) (-1.7,-1.1) (-1.3,0.6) (-0.7,-0.5) (-0.6,-1.1) (-0.2,-0.7) (0.0,-1.0) (0.35,-1.2) (0.45,-0.3) (0.9,-0.6) (1.05,-1.5) (1.4,-1.0) (1.85,-0.5) (2.0,-1.3) (2.5,-0.3) (3.0,-1.2) (3.6,-0.9) (3.75,-1.3) (4.2,-0.4) (4.6,-1.2) (5.0,-0.7) (5.5,-1.1) (5.6,-0.2) (6.3,-1.2) (-5.2,0.5) (-4.3,0.6) (-3.0,0.5) (-1.9,1.0) (-0.6,0.9) (0.5,1.2) (1.9,0.6) (3.1,0.8) (4.7,0.6) (6.0,0.4)};
\addplot[rug, mark size=2.25pt] coordinates {(-6.5,-3.92) (-6.0,-3.92) (-5.9,-3.92) (-5.8,-3.92) (-5.7,-3.92) (-5.6,-3.92) (-5.3,-3.92) (-5.1,-3.92) (-4.9,-3.92) (-4.8,-3.92) (-4.7,-3.92) (-4.5,-3.92) (-4.4,-3.92) (-4.1,-3.92) (-4.0,-3.92) (-3.9,-3.92) (-3.8,-3.92) (-3.6,-3.92) (-3.5,-3.92) (-3.4,-3.92) (-3.3,-3.92) (-3.1,-3.92) (-3.0,-3.92) (-2.9,-3.92) (-2.6,-3.92) (-2.5,-3.92) (-2.3,-3.92) (-2.2,-3.92) (-2.1,-3.92) (-2.0,-3.92) (-1.9,-3.92) (-1.6,-3.92) (-1.4,-3.92) (-1.1,-3.92) (-1.0,-3.92) (-0.9,-3.92) (-0.8,-3.92) (-0.7,-3.92) (-0.5,-3.92) (-0.4,-3.92) (-0.3,-3.92) (-0.1,-3.92) (0.1,-3.92) (0.2,-3.92) (0.3,-3.92) (0.5,-3.92) (0.7,-3.92) (0.8,-3.92) (0.9,-3.92) (1.1,-3.92) (1.2,-3.92) (1.3,-3.92) (1.5,-3.92) (1.6,-3.92) (1.7,-3.92) (1.9,-3.92) (2.1,-3.92) (2.7,-3.92) (2.9,-3.92) (3.1,-3.92) (3.3,-3.92) (3.4,-3.92) (3.5,-3.92) (3.7,-3.92) (3.9,-3.92) (4.0,-3.92) (4.1,-3.92) (4.3,-3.92) (4.4,-3.92) (4.5,-3.92) (4.7,-3.92) (4.9,-3.92) (5.1,-3.92) (5.2,-3.92) (5.3,-3.92) (5.4,-3.92) (5.5,-3.92) (5.8,-3.92) (6.0,-3.92) (6.2,-3.92) (6.5,-3.92)};
\end{axis}

% panel letters
\node[font=\letterfont\fontsize{27}{30}\selectfont, anchor=base] at (512.8pt,490.7pt) {A};
\node[font=\letterfont\fontsize{25}{28}\selectfont, anchor=base] at (628.3pt,355pt) {B};
\node[font=\letterfont\fontsize{25}{28}\selectfont, anchor=base] at (943.3pt,355pt) {C};
\node[font=\letterfont\fontsize{25}{28}\selectfont, anchor=base] at (630pt,63.3pt) {D};
\node[font=\letterfont\fontsize{25}{28}\selectfont, anchor=base] at (942.5pt,63.3pt) {E};
\end{tikzpicture}
\end{document}
